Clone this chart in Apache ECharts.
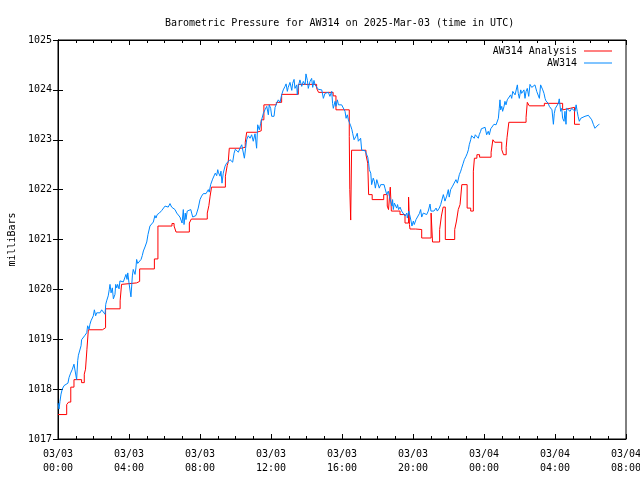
<!DOCTYPE html>
<html><head><meta charset="utf-8">
<script src="https://cdn.jsdelivr.net/npm/echarts@6/dist/echarts.min.js"></script>
<style>html,body{margin:0;padding:0;background:#fff}#c{width:640px;height:480px}</style>
</head><body><div id="c"></div>
<script>
const chartTitle = 'Barometric Pressure for AW314 on 2025-Mar-03 (time in UTC)';
const dateLabels = ['03/03','03/03','03/03','03/03','03/03','03/03','03/04','03/04','03/04'];
const timeLabels = ['00:00','04:00','08:00','12:00','16:00','20:00','00:00','04:00','08:00'];
const seriesNames = ['AW314 Analysis','AW314'];
// [hours since 03/03 00:00 UTC, mbar]
const analysisPoints = [[0,1017.49],[0.49,1017.69],[0.6,1017.74],[0.72,1018.04],[0.9,1018.19],[1.33,1018.13],[1.48,1018.3],[1.55,1018.4],[1.63,1018.8],[1.71,1019.19],[2.5,1019.23],[2.68,1019.61],[3.5,1019.77],[3.58,1020.1],[3.65,1020.13],[4.43,1020.16],[4.6,1020.41],[5.43,1020.61],[5.63,1021.27],[6.42,1021.32],[6.54,1021.27],[6.65,1021.15],[7.4,1021.33],[7.51,1021.41],[8.41,1021.53],[8.5,1021.68],[8.57,1021.87],[8.65,1022.05],[9.43,1022.27],[9.53,1022.48],[9.59,1022.55],[9.65,1022.83],[10.35,1022.85],[10.55,1022.95],[10.63,1023.15],[11.2,1023.18],[11.45,1023.4],[11.6,1023.7],[12.3,1023.75],[12.6,1023.91],[13.54,1024.11],[14.57,1024.03],[14.68,1023.95],[15.5,1023.88],[15.66,1023.6],[16.41,1023.06],[16.44,1022.0],[16.49,1021.39],[16.54,1022.79],[17.35,1022.7],[17.45,1022.53],[17.5,1021.9],[17.7,1021.8],[18.35,1021.9],[18.55,1021.67],[18.62,1021.6],[18.72,1022.05],[18.78,1021.57],[19.27,1021.5],[19.55,1021.33],[19.75,1021.85],[19.8,1021.3],[19.83,1021.21],[20.15,1021.2],[20.49,1021.03],[21.02,1021.53],[21.1,1020.95],[21.5,1021.2],[21.6,1021.47],[21.7,1021.65],[21.82,1021.0],[22.35,1021.2],[22.45,1021.37],[22.55,1021.6],[22.65,1021.7],[22.75,1022.1],[23.05,1021.63],[23.25,1021.57],[23.4,1022.37],[23.46,1022.63],[23.6,1022.7],[23.75,1022.65],[24.4,1022.75],[24.5,1023.0],[24.6,1022.95],[25.0,1022.8],[25.1,1022.7],[25.25,1022.85],[25.3,1023.05],[25.4,1023.35],[26.37,1023.45],[26.44,1023.75],[26.55,1023.68],[27.4,1023.73],[28.43,1023.6],[28.52,1023.63],[28.85,1023.65],[29.1,1023.31],[29.4,1023.31]];
const stationPoints = [[0,1017.72],[0.06,1017.6],[0.11,1017.75],[0.17,1017.9],[0.24,1018.0],[0.34,1018.07],[0.43,1018.1],[0.56,1018.12],[0.62,1018.23],[0.71,1018.32],[0.81,1018.4],[0.9,1018.5],[1.0,1018.48],[1.05,1018.19],[1.11,1018.57],[1.15,1018.68],[1.2,1018.66],[1.3,1018.87],[1.33,1018.99],[1.43,1019.03],[1.52,1019.08],[1.62,1019.13],[1.67,1019.27],[1.71,1019.3],[1.75,1019.2],[1.8,1019.3],[1.86,1019.37],[1.93,1019.4],[1.99,1019.47],[2.05,1019.59],[2.12,1019.47],[2.18,1019.53],[2.27,1019.5],[2.37,1019.53],[2.46,1019.59],[2.55,1019.57],[2.65,1019.5],[2.69,1019.7],[2.74,1019.77],[2.83,1019.87],[2.89,1020.0],[2.93,1020.1],[2.99,1019.93],[3.06,1020.03],[3.12,1019.81],[3.21,1019.9],[3.25,1020.1],[3.31,1020.03],[3.36,1020.1],[3.44,1020.01],[3.49,1020.17],[3.59,1020.13],[3.68,1020.15],[3.77,1020.13],[3.83,1020.3],[3.89,1020.2],[3.93,1020.33],[4.0,1020.13],[4.11,1019.85],[4.19,1020.27],[4.24,1020.4],[4.34,1020.3],[4.39,1020.43],[4.43,1020.6],[4.49,1020.52],[4.56,1020.55],[4.68,1020.6],[4.75,1020.68],[4.81,1020.77],[4.9,1020.85],[5.0,1020.95],[5.07,1021.1],[5.18,1021.27],[5.28,1021.3],[5.37,1021.35],[5.46,1021.48],[5.52,1021.43],[5.59,1021.5],[5.71,1021.53],[5.84,1021.58],[5.9,1021.61],[6.03,1021.67],[6.12,1021.7],[6.21,1021.65],[6.31,1021.72],[6.4,1021.65],[6.5,1021.61],[6.59,1021.6],[6.69,1021.53],[6.78,1021.5],[6.87,1021.45],[6.93,1021.41],[6.99,1021.33],[7.06,1021.6],[7.1,1021.3],[7.17,1021.53],[7.21,1021.4],[7.28,1021.57],[7.36,1021.61],[7.48,1021.6],[7.53,1021.53],[7.59,1021.45],[7.68,1021.41],[7.77,1021.48],[7.85,1021.57],[7.9,1021.63],[8.0,1021.8],[8.09,1021.87],[8.19,1021.92],[8.34,1021.92],[8.41,1021.93],[8.47,1022.0],[8.52,1021.95],[8.6,1022.1],[8.66,1022.13],[8.71,1022.21],[8.79,1022.23],[8.86,1022.33],[8.94,1022.28],[9.0,1022.4],[9.03,1022.35],[9.13,1022.27],[9.18,1022.37],[9.24,1022.13],[9.31,1022.33],[9.41,1022.47],[9.5,1022.53],[9.6,1022.57],[9.69,1022.6],[9.79,1022.63],[9.84,1022.55],[9.92,1022.73],[9.99,1022.81],[10.07,1022.79],[10.16,1022.75],[10.25,1022.83],[10.35,1022.9],[10.44,1022.93],[10.5,1022.63],[10.57,1022.83],[10.63,1023.0],[10.72,1023.08],[10.82,1023.03],[10.91,1023.1],[11.0,1022.97],[11.1,1023.12],[11.19,1022.83],[11.25,1023.3],[11.34,1023.2],[11.42,1023.33],[11.53,1023.3],[11.57,1023.53],[11.66,1023.6],[11.76,1023.67],[11.85,1023.5],[11.9,1023.7],[11.98,1023.63],[12.04,1023.47],[12.17,1023.47],[12.23,1023.65],[12.32,1023.73],[12.41,1023.8],[12.51,1023.75],[12.6,1023.9],[12.69,1024.0],[12.79,1024.07],[12.85,1024.12],[12.92,1023.97],[12.97,1024.05],[13.07,1024.15],[13.17,1023.99],[13.22,1024.13],[13.3,1024.21],[13.35,1024.03],[13.45,1024.1],[13.48,1023.9],[13.54,1024.07],[13.63,1024.2],[13.73,1024.07],[13.82,1024.17],[13.92,1024.1],[13.97,1024.32],[14.05,1024.19],[14.1,1024.03],[14.2,1024.17],[14.29,1024.23],[14.35,1024.05],[14.42,1024.19],[14.48,1024.1],[14.57,1024.12],[14.67,1024.01],[14.76,1023.97],[14.86,1024.0],[14.95,1023.83],[15.04,1023.93],[15.14,1023.9],[15.23,1023.95],[15.32,1023.87],[15.42,1023.97],[15.47,1023.73],[15.51,1023.63],[15.61,1023.77],[15.66,1023.67],[15.74,1023.8],[15.8,1023.7],[15.89,1023.73],[15.98,1023.7],[16.07,1023.72],[16.17,1023.57],[16.23,1023.43],[16.3,1023.5],[16.36,1023.4],[16.41,1023.35],[16.49,1023.28],[16.56,1023.2],[16.6,1023.13],[16.68,1023.0],[16.73,1023.0],[16.79,1023.07],[16.86,1023.13],[16.92,1022.97],[16.97,1022.93],[17.05,1023.03],[17.11,1022.79],[17.2,1022.77],[17.3,1022.78],[17.39,1022.8],[17.45,1022.65],[17.5,1022.53],[17.54,1022.4],[17.62,1022.33],[17.67,1022.1],[17.76,1022.23],[17.82,1022.17],[17.88,1022.03],[17.96,1022.2],[18.05,1022.17],[18.1,1022.03],[18.18,1022.1],[18.29,1022.13],[18.37,1022.1],[18.42,1022.03],[18.52,1021.9],[18.61,1021.97],[18.66,1021.88],[18.74,1021.77],[18.82,1021.67],[18.85,1021.8],[18.89,1021.6],[18.95,1021.73],[19.0,1021.77],[19.08,1021.63],[19.13,1021.7],[19.19,1021.6],[19.27,1021.65],[19.36,1021.57],[19.45,1021.53],[19.55,1021.47],[19.65,1021.53],[19.68,1021.43],[19.76,1021.57],[19.83,1021.47],[19.89,1021.37],[19.94,1021.27],[20.02,1021.37],[20.07,1021.3],[20.17,1021.4],[20.24,1021.43],[20.36,1021.52],[20.43,1021.6],[20.49,1021.45],[20.58,1021.53],[20.68,1021.57],[20.77,1021.5],[20.86,1021.57],[20.96,1021.71],[21.01,1021.57],[21.11,1021.6],[21.18,1021.57],[21.3,1021.63],[21.37,1021.57],[21.48,1021.63],[21.56,1021.7],[21.63,1021.68],[21.71,1021.9],[21.76,1021.83],[21.8,1021.77],[21.9,1021.87],[21.99,1022.0],[22.04,1021.85],[22.12,1022.0],[22.23,1022.07],[22.31,1022.1],[22.42,1022.2],[22.5,1022.13],[22.61,1022.3],[22.69,1022.37],[22.74,1022.43],[22.83,1022.53],[22.89,1022.6],[22.99,1022.67],[23.06,1022.73],[23.12,1022.8],[23.17,1022.9],[23.25,1023.0],[23.3,1023.08],[23.4,1023.07],[23.45,1023.03],[23.51,1023.1],[23.59,1023.11],[23.68,1023.03],[23.73,1023.1],[23.81,1023.17],[23.85,1023.22],[23.96,1023.18],[24.06,1023.25],[24.15,1023.1],[24.24,1023.17],[24.3,1023.1],[24.38,1023.22],[24.49,1023.23],[24.56,1023.31],[24.68,1023.3],[24.75,1023.33],[24.81,1023.43],[24.86,1023.63],[24.9,1023.8],[24.94,1023.6],[25.0,1023.67],[25.05,1023.57],[25.13,1023.67],[25.18,1023.77],[25.24,1023.7],[25.31,1023.8],[25.37,1023.82],[25.42,1023.83],[25.5,1023.9],[25.56,1023.83],[25.62,1023.97],[25.69,1024.0],[25.75,1023.9],[25.8,1023.87],[25.88,1024.1],[25.93,1023.93],[25.99,1023.83],[26.07,1024.0],[26.12,1023.93],[26.21,1023.9],[26.25,1024.0],[26.31,1023.83],[26.37,1023.97],[26.44,1024.03],[26.52,1023.87],[26.59,1024.11],[26.69,1024.05],[26.78,1024.05],[26.87,1024.1],[26.97,1023.97],[27.06,1024.0],[27.12,1023.83],[27.19,1024.1],[27.25,1024.1],[27.31,1024.0],[27.38,1023.93],[27.44,1023.83],[27.49,1023.78],[27.57,1023.77],[27.62,1023.73],[27.68,1023.67],[27.76,1023.67],[27.83,1023.6],[27.91,1023.31],[27.96,1023.53],[28.02,1023.63],[28.1,1023.67],[28.19,1023.73],[28.24,1023.82],[28.32,1023.57],[28.38,1023.63],[28.43,1023.43],[28.51,1023.37],[28.56,1023.57],[28.62,1023.31],[28.66,1023.63],[28.75,1023.67],[28.85,1023.57],[28.94,1023.63],[29.03,1023.6],[29.13,1023.57],[29.19,1023.7],[29.25,1023.57],[29.3,1023.47],[29.37,1023.37],[29.45,1023.43],[29.5,1023.45],[29.69,1023.47],[29.88,1023.49],[29.97,1023.51],[30.07,1023.4],[30.16,1023.31],[30.25,1023.23],[30.35,1023.27],[30.44,1023.3],[30.5,1023.31]];

const FONT = 'DejaVu Sans Mono';
const chart = echarts.init(document.getElementById('c'), null, {renderer:'canvas'});
const axisLine = {show:true, lineStyle:{color:'#000', width:1}};
const tickStyle = {color:'#000', width:1};
const xCommon = {type:'value', min:0, max:32, interval:4,
  axisLine: axisLine, splitLine:{show:false},
  axisTick:{show:true, inside:true, length:5, lineStyle:tickStyle},
  minorTick:{show:true, splitNumber:4, length:3, lineStyle:tickStyle}, minorSplitLine:{show:false}};
const yCommon = {type:'value', min:1017, max:1025, interval:1, scale:true,
  axisLine: axisLine, splitLine:{show:false},
  axisTick:{show:true, inside:true, length:5, lineStyle:tickStyle}};
chart.setOption({
  animation:false,
  backgroundColor:'#fff',
  textStyle:{fontFamily:FONT},
  title:{text:chartTitle, left:160, top:13, textStyle:{fontFamily:FONT, fontSize:10, fontWeight:'normal', color:'#000'}},
  legend:[
    {data:[seriesNames[0]], right:28, top:46, orient:'vertical', align:'right', icon:'rect', itemWidth:28, itemHeight:1, itemGap:0, padding:0,
     textStyle:{fontFamily:FONT, fontSize:10, color:'#000', padding:[0,2,0,0]}},
    {data:[seriesNames[1]], right:28, top:58, orient:'vertical', align:'right', icon:'rect', itemWidth:28, itemHeight:1, itemGap:0, padding:0,
     textStyle:{fontFamily:FONT, fontSize:10, color:'#000', padding:[0,2,0,0]}}
  ],
  grid:{left:58, right:14, top:40, bottom:41, containLabel:false, outerBoundsMode:'none',
        show:true, borderColor:'#000', borderWidth:1, backgroundColor:'transparent'},
  xAxis:[
    Object.assign({}, xCommon, {position:'bottom',
      axisLabel:{show:true, margin:8, showMaxLabel:true, showMinLabel:true, hideOverlap:false, fontFamily:FONT, fontSize:10, color:'#000', lineHeight:14,
        formatter:function(v){const i=Math.round(v/4); return dateLabels[i]+'\n'+timeLabels[i];}}}),
    Object.assign({}, xCommon, {position:'top', axisLabel:{show:false}})
  ],
  yAxis:[
    Object.assign({}, yCommon, {position:'left', name:'milliBars', nameLocation:'middle', nameGap:38, nameRotate:90,
      nameTextStyle:{fontFamily:FONT, fontSize:10, color:'#000'},
      axisLabel:{show:true, margin:6, fontFamily:FONT, fontSize:10, color:'#000', formatter:function(v){return String(v);}}}),
    Object.assign({}, yCommon, {position:'right', axisLabel:{show:false}})
  ],
  series:[
    {name:seriesNames[0], type:'line', step:'end', data:analysisPoints, showSymbol:false, symbol:'none',
     lineStyle:{color:'#ff0000', width:1}, itemStyle:{color:'#ff0000'}, xAxisIndex:0, yAxisIndex:0, z:2},
    {name:seriesNames[1], type:'line', data:stationPoints, showSymbol:false, symbol:'none',
     lineStyle:{color:'#0088ff', width:1}, itemStyle:{color:'#0088ff'}, xAxisIndex:0, yAxisIndex:0, z:3}
  ]
});
</script></body></html>
